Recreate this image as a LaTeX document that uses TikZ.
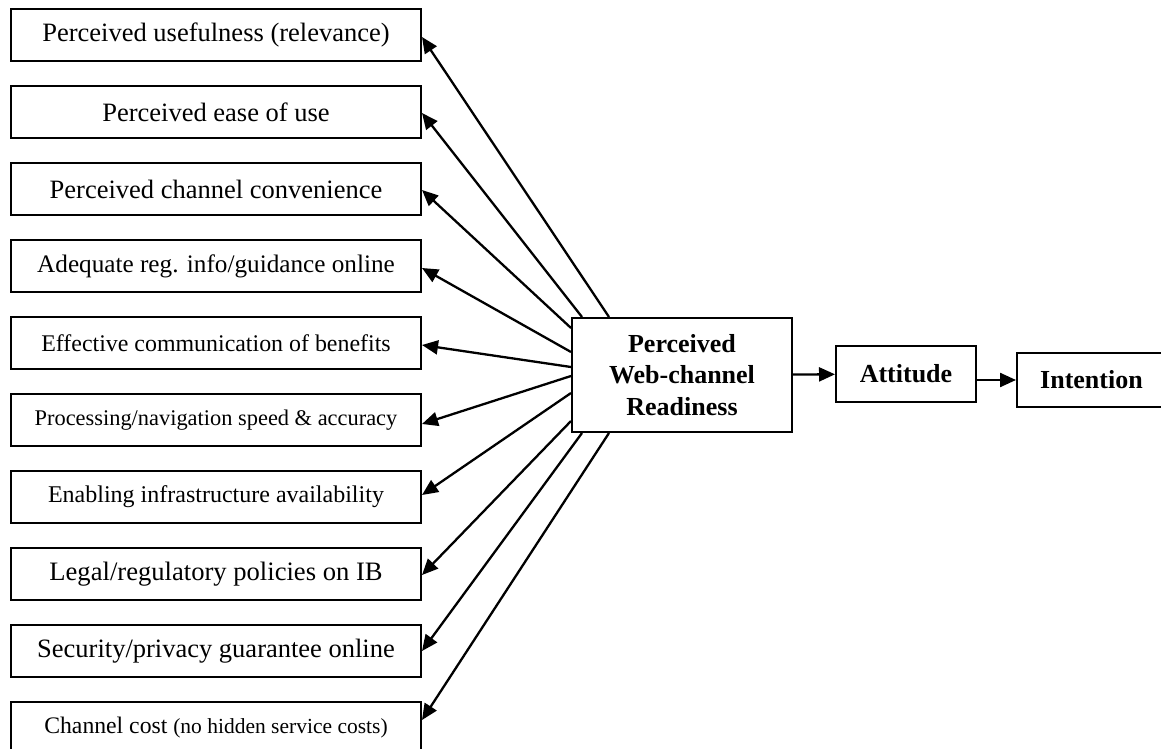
\documentclass[tikz,border=0pt]{standalone}
\usepackage{fontspec}
\setmainfont{Liberation Serif}
\usetikzlibrary{arrows.meta,calc}
\newcommand{\setfs}[1]{\fontsize{#1}{#1}\selectfont}
\tikzset{
  factor/.style={draw, line width=2pt, minimum width=410pt, minimum height=52pt, inner sep=0pt},
  core/.style={draw, line width=2pt, inner sep=0pt, align=center, font=\bfseries\fontsize{26}{31.5}\selectfont},
  arr/.style={line width=2.3pt, -{Triangle[length=16pt,width=14pt]}},
}
\begin{document}
\begin{tikzpicture}[x=1pt,y=-1pt]
\path[use as bounding box, clip] (0,0) rectangle (1161,749);
\fill[white] (0,0) rectangle (1161,749);

\node[factor, font=\setfs{26.5}] (b1) at (216,35) {Perceived usefulness (relevance)};
\node[factor, font=\setfs{26.5}] (b2) at (216,112) {Perceived ease of use};
\node[factor, font=\setfs{26.5}] (b3) at (216,189) {Perceived channel convenience};
\node[factor, font=\setfs{25.2}] (b4) at (216,266) {Adequate reg. info/guidance online};
\node[factor, font=\setfs{23.9}] (b5) at (216,343) {Effective communication of benefits};
\node[factor, font=\setfs{22.4}] (b6) at (216,420) {Processing/navigation speed \& accuracy};
\node[factor, font=\setfs{24}] (b7) at (216,497) {Enabling infrastructure availability};
\node[factor, font=\setfs{26.6}] (b8) at (216,574) {Legal/regulatory policies on IB};
\node[factor, font=\setfs{26.5}] (b9) at (216,651) {Security/privacy guarantee online};
\node[factor, font=\setfs{23.7}] (b10) at (216,728) {Channel cost {\setfs{21.5}(no hidden service costs)}};

\node[core, minimum width=220pt, minimum height=114pt] (pwr) at (682,375) {Perceived\\Web-channel\\Readiness};
\node[core, minimum width=140pt, minimum height=56pt] (att) at (906,374) {Attitude};
\node[core, minimum width=149pt, minimum height=54pt] (int) at (1091.5,380) {Intention};

\draw[arr] (pwr) -- (att);
\draw[arr] (att.east |- int.west) -- (int.west);

\draw[arr] ([xshift=38pt]pwr.north west) -- ([yshift=-2pt]b1.east);
\draw[arr] ([xshift=11pt]pwr.north west) -- ([yshift=-1pt]b2.east);
\draw[arr] ([yshift=-11pt]pwr.north west) -- ([yshift=-1pt]b3.east);
\draw[arr] ([yshift=-35pt]pwr.north west) -- ([yshift=-2pt]b4.east);
\draw[arr] ([yshift=-50pt]pwr.north west) -- ([yshift=-2pt]b5.east);
\draw[arr] ([yshift=-59pt]pwr.north west) -- ([yshift=-4pt]b6.east);
\draw[arr] ([yshift=-76pt]pwr.north west) -- ([yshift=2pt]b7.east);
\draw[arr] ([yshift=-104pt]pwr.north west) -- ([yshift=-1pt]b8.east);
\draw[arr] ([xshift=11pt]pwr.south west) -- (b9.east);
\draw[arr] ([xshift=38pt]pwr.south west) -- ([yshift=8pt]b10.east);
\end{tikzpicture}
\end{document}
